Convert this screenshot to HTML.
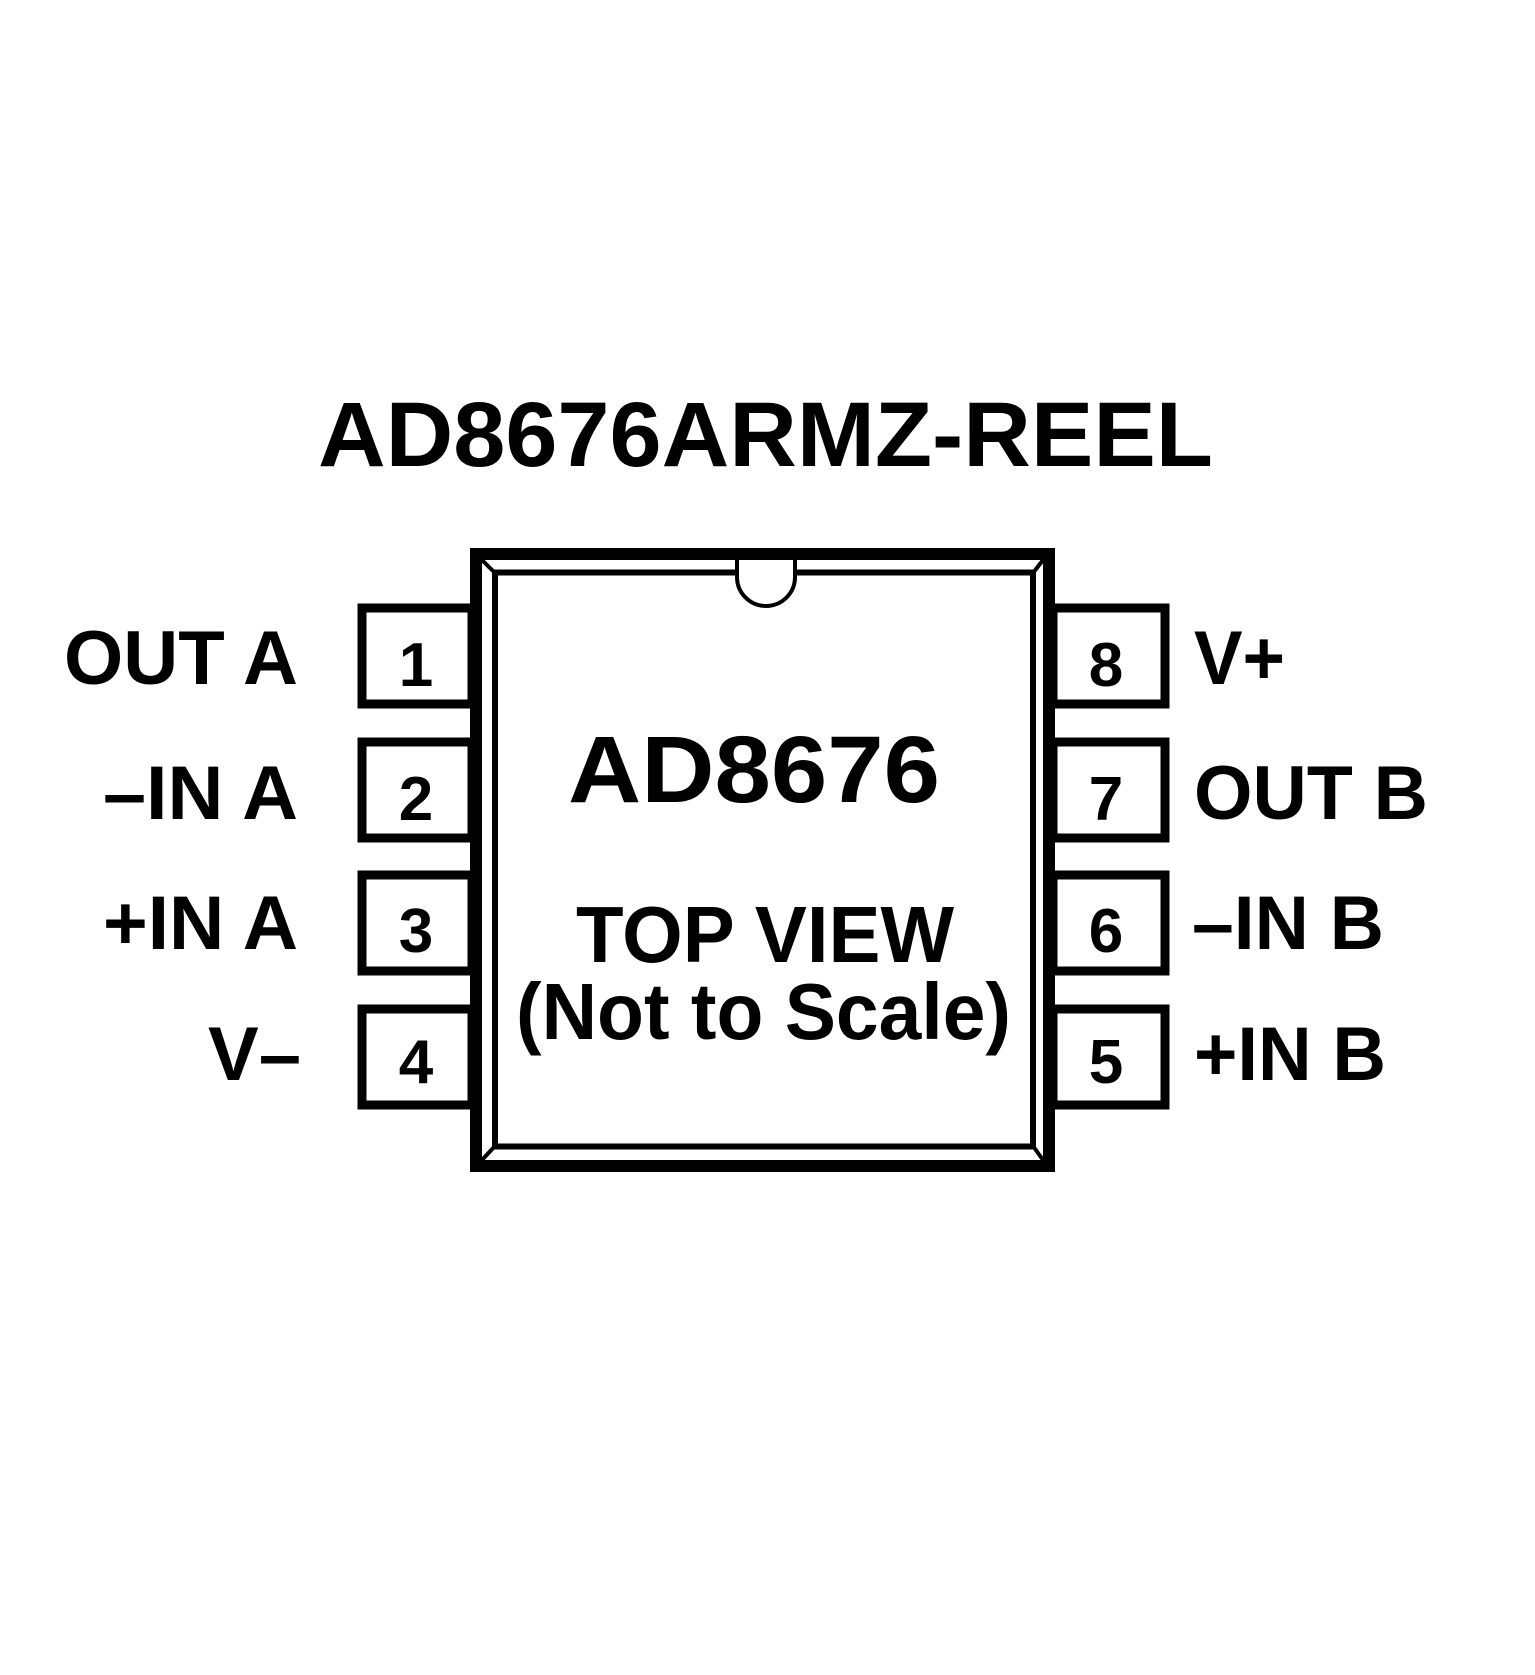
<!DOCTYPE html>
<html><head><meta charset="utf-8"><style>html,body{margin:0;padding:0;background:#fff}svg{display:block}</style></head>
<body>
<svg width="1535" height="1675" viewBox="0 0 1535 1675" xmlns="http://www.w3.org/2000/svg">
<rect width="1535" height="1675" fill="#fff"/>
<text x="318" y="466" font-family="Liberation Sans, sans-serif" font-weight="bold" font-size="92" textLength="895" lengthAdjust="spacingAndGlyphs">AD8676ARMZ-REEL</text>
<g fill="#fff" stroke="#000" stroke-width="9">
<rect x="362" y="608" width="110" height="96"/>
<rect x="362" y="742" width="110" height="96"/>
<rect x="362" y="875" width="110" height="96"/>
<rect x="362" y="1009" width="110" height="96"/>
<rect x="1053" y="608" width="112" height="96"/>
<rect x="1053" y="742" width="112" height="96"/>
<rect x="1053" y="875" width="112" height="96"/>
<rect x="1053" y="1009" width="112" height="96"/>
</g>
<rect x="476" y="554" width="573" height="612" fill="#fff" stroke="#000" stroke-width="12"/>
<rect x="495" y="572.5" width="538" height="574" fill="none" stroke="#000" stroke-width="6"/>
<g stroke="#000" stroke-width="4">
<line x1="482" y1="560" x2="495" y2="573"/>
<line x1="1043" y1="560" x2="1033" y2="573"/>
<line x1="482" y1="1160" x2="495" y2="1146"/>
<line x1="1043" y1="1160" x2="1033" y2="1146"/>
</g>
<path d="M737 560 V577 A29 29 0 0 0 795 577 V560" fill="#fff" stroke="#000" stroke-width="4"/>
<g font-family="Liberation Sans, sans-serif" font-weight="bold" fill="#000">
<g font-size="62" text-anchor="middle">
<text x="416" y="686">1</text><text x="416" y="820">2</text><text x="416" y="952">3</text><text x="416" y="1083">4</text>
<text x="1106" y="686">8</text><text x="1106" y="820">7</text><text x="1106" y="952">6</text><text x="1106" y="1083">5</text>
</g>
<g font-size="76">
<text x="64" y="684" textLength="234" lengthAdjust="spacingAndGlyphs">OUT A</text>
<text x="103" y="819" textLength="195" lengthAdjust="spacingAndGlyphs">–IN A</text>
<text x="103" y="949" textLength="195" lengthAdjust="spacingAndGlyphs">+IN A</text>
<text x="208" y="1080" textLength="93" lengthAdjust="spacingAndGlyphs">V–</text>
<text x="1194" y="684" textLength="91" lengthAdjust="spacingAndGlyphs">V+</text>
<text x="1194" y="819" textLength="234" lengthAdjust="spacingAndGlyphs">OUT B</text>
<text x="1192" y="949" textLength="192" lengthAdjust="spacingAndGlyphs">–IN B</text>
<text x="1194" y="1080" textLength="192" lengthAdjust="spacingAndGlyphs">+IN B</text>
</g>
<text x="568" y="802" font-size="95" textLength="372" lengthAdjust="spacingAndGlyphs">AD8676</text>
<text x="576" y="962" font-size="80" textLength="378" lengthAdjust="spacingAndGlyphs">TOP VIEW</text>
<text x="516" y="1039" font-size="80" textLength="495" lengthAdjust="spacingAndGlyphs">(Not to Scale)</text>
</g>
</svg>
</body></html>
